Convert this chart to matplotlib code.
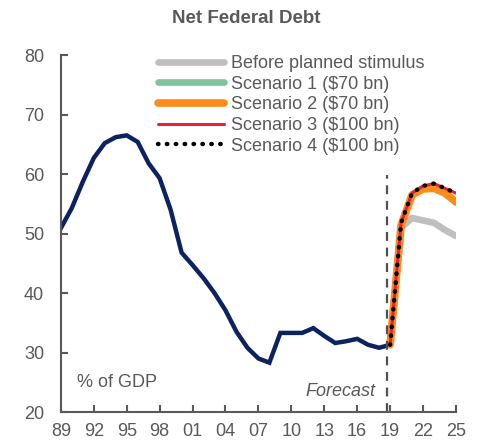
import matplotlib
matplotlib.use("Agg")
import matplotlib.pyplot as plt

plt.rcParams['font.family'] = ['Liberation Sans', 'DejaVu Sans']

# Historical net federal debt, % of GDP
hist_years = list(range(1989, 2020))
hist_debt = [50.9, 54.3, 58.7, 62.7, 65.2, 66.2, 66.5, 65.4, 61.8, 59.3,
             54.0, 46.8, 44.7, 42.5, 40.0, 37.1, 33.5, 30.8, 29.0, 28.3,
             33.3, 33.3, 33.3, 34.1, 32.8, 31.6, 31.9, 32.3, 31.3, 30.8,
             31.3]

# Projections
proj_years = list(range(2019, 2026))
before_stimulus = [31.3, 51.0, 52.6, 52.2, 51.8, 50.6, 49.6]
scenario1 = [31.3, 51.4, 56.5, 57.5, 57.6, 56.8, 55.3]
scenario2 = [31.3, 51.4, 56.5, 57.5, 57.6, 56.8, 55.3]
scenario3 = [31.3, 51.8, 56.8, 58.0, 58.4, 57.6, 56.8]
scenario4 = [31.3, 51.8, 56.8, 58.0, 58.4, 57.6, 56.8]

tick_years = list(range(1989, 2026, 3))
tick_labels = [f"{y % 100:02d}" for y in tick_years]

text_col = '#595959'

fig = plt.figure(figsize=(4.83, 4.44), dpi=100)
ax = fig.add_axes([0.126, 0.072, 0.818, 0.804])

ax.plot(hist_years, hist_debt, color='#0d2361', lw=3.2, solid_joinstyle='miter')
ax.plot(proj_years, before_stimulus, color='#bfbfbf', lw=4.8,
        solid_capstyle='round', label='Before planned stimulus')
ax.plot(proj_years, scenario1, color='#84c29c', lw=4.8,
        solid_capstyle='round', label='Scenario 1 ($70 bn)')
ax.plot(proj_years, scenario2, color='#ff8c1a', lw=5.5,
        solid_capstyle='round', label='Scenario 2 ($70 bn)')
ax.plot(proj_years, scenario3, color='#e8203a', lw=2.2,
        solid_capstyle='round', label='Scenario 3 ($100 bn)')
ax.plot(proj_years, scenario4, color='black', lw=3.2, ls=(0, (0.1, 1.9)),
        dash_capstyle='round', label='Scenario 4 ($100 bn)')

# forecast divider
ax.axvline(2018.75, ymin=0, ymax=0.665, color='#505050', lw=1.6,
           ls=(0, (4, 3)))
ax.text(2017.7, 23.4, 'Forecast', style='italic', fontsize=13,
        color=text_col, ha='right', va='center')
ax.text(1990.5, 24.9, '% of GDP', fontsize=13, color=text_col,
        ha='left', va='center')

ax.set_xlim(1989, 2025)
ax.set_ylim(20, 80)
ax.set_yticks(range(20, 81, 10))
ax.set_xticks(tick_years)
ax.set_xticklabels(tick_labels)
ax.tick_params(direction='in', length=5, width=1.5, colors='#595959',
               labelsize=13, labelcolor=text_col)
ax.tick_params(axis='y', pad=12)
ax.tick_params(axis='x', pad=8)
for side in ['top', 'right']:
    ax.spines[side].set_visible(False)
for side in ['left', 'bottom']:
    ax.spines[side].set_color('#595959')
    ax.spines[side].set_linewidth(1.5)

ax.legend(loc='upper left', bbox_to_anchor=(0.245, 1.0), frameon=False,
          fontsize=13, labelcolor=text_col, handlelength=3.7,
          handletextpad=0.35, labelspacing=0.2, borderaxespad=0.0,
          borderpad=0.0)

fig.suptitle('Net Federal Debt', fontsize=13.5, fontweight='bold',
             color=text_col, x=0.51, y=0.977)

fig.savefig('out.png', dpi=100)
